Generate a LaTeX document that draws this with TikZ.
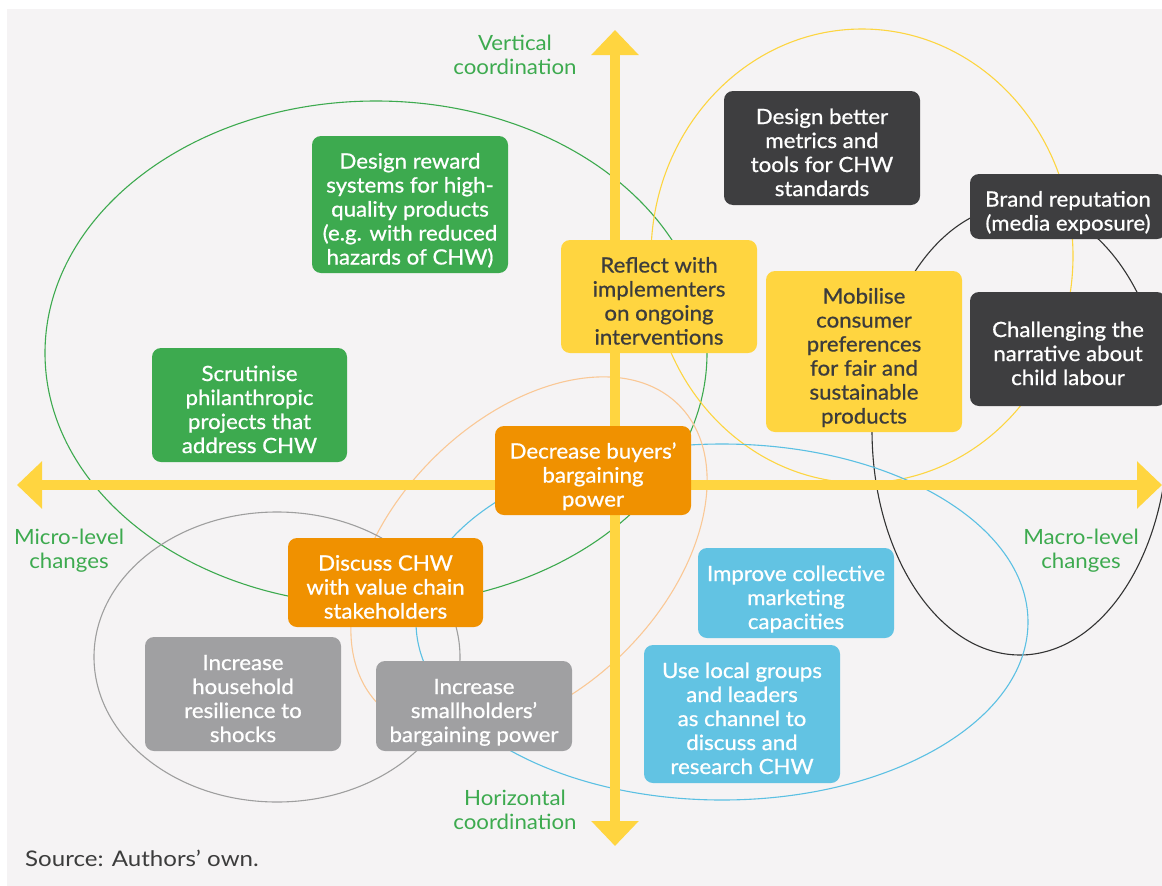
\documentclass[tikz,border=0pt]{standalone}
\usepackage{fontspec}
\setmainfont{Lato}[FakeStretch=1.06]
\newfontfamily\boxfont{Lato}[FakeStretch=1.06, FakeBold=0.8]
\newfontfamily\srcfont{Lato}[FakeStretch=1.12]
\newcommand\boxtop{\rule{0pt}{29pt}}
\newcommand\boxbot{\rule[-5pt]{0pt}{5pt}}
\usetikzlibrary{arrows.meta}
\definecolor{bg}{HTML}{F5F3F4}
\definecolor{cgreen}{HTML}{3DAA4F}
\definecolor{cyellow}{HTML}{FFD540}
\definecolor{corange}{HTML}{F09100}
\definecolor{cdark}{HTML}{3E3E40}
\definecolor{cgrey}{HTML}{A0A0A2}
\definecolor{cblue}{HTML}{62C3E3}
\definecolor{cpeach}{HTML}{FAC896}
\definecolor{ctext}{HTML}{3C3C3C}
\definecolor{eyellow}{HTML}{FDD540}
\definecolor{eblack}{HTML}{333333}
\definecolor{egrey}{HTML}{9E9E9E}
\definecolor{eblue}{HTML}{5BC0E3}
\begin{document}
\begin{tikzpicture}[x=1pt,y=-1pt,
  box/.style={rounded corners=9pt, minimum width=196pt, align=center, inner sep=0pt,
    font=\boxfont\fontsize{21}{24}\selectfont, text=white},
  greenbox/.style={box, fill=cgreen},
  yellowbox/.style={box, fill=cyellow, text=ctext},
  orangebox/.style={box, fill=corange},
  darkbox/.style={box, fill=cdark},
  greybox/.style={box, fill=cgrey},
  bluebox/.style={box, fill=cblue},
  axislabel/.style={align=center, text=cgreen, font=\fontsize{21}{24}\selectfont},
  ring/.style={line width=1.1pt},
  axisline/.style={draw=cyellow, line width=10.5pt, {Triangle[width=46pt,length=25pt]}-{Triangle[width=46pt,length=25pt]}}
]
\useasboundingbox (0,0) rectangle (1162,886);
\fill[white] (0,0) rectangle (1162,886);
\fill[bg] (7,9) rectangle (1162,886);

% ellipses
\draw[ring, draw=cgreen] (376,353) ellipse [x radius=331pt, y radius=252pt];
\draw[ring, draw=eyellow] (862,256) ellipse [x radius=211pt, y radius=227pt];
\draw[ring, draw=eblack] (1020,430) ellipse [x radius=148pt, y radius=225pt];
\draw[ring, draw=eblue] (722,622) ellipse [x radius=306pt, y radius=178pt];
\draw[ring, draw=cpeach, rotate around={45:(529,555)}] (529,555) ellipse [x radius=212pt, y radius=136pt];
\draw[ring, draw=egrey] (277,657) ellipse [x radius=183pt, y radius=145pt];

% axes
\coordinate (left) at (17,485);
\coordinate (right) at (1162,485);
\coordinate (top) at (615,30);
\coordinate (bottom) at (615,846);
\draw[axisline] (left) -- (right);
\draw[axisline] (bottom) -- (top);

% boxes
\node[greenbox, minimum height=137pt] (reward) at (410,204.5) {\boxtop Design reward\\systems for high-\\quality products\\(e.g. with reduced\\hazards of CHW)\boxbot};
\node[greenbox, minimum height=114pt, minimum width=195pt] (scrutinise) at (249.5,405) {\boxtop Scrutinise\\philanthropic\\projects that\\address CHW\boxbot};
\node[yellowbox, minimum height=113pt] (reflect) at (659,296.5) {\boxtop Reflect with\\implementers\\on ongoing\\interventions\boxbot};
\node[orangebox, minimum height=89pt] (decrease) at (593,470.5) {\boxtop Decrease buyers’\\bargaining\\power\boxbot};
\node[darkbox, minimum height=114pt] (metrics) at (822,148) {\boxtop Design better\\metrics and\\tools for CHW\\standards\boxbot};
\node[darkbox, minimum height=65pt] (brand) at (1068,206.5) {\boxtop Brand reputation\\(media exposure)\boxbot};
\node[darkbox, minimum height=114pt] (narrative) at (1068,349) {\boxtop Challenging the\\narrative about\\child labour\boxbot};
\node[yellowbox, minimum height=161pt] (mobilise) at (864,351.5) {\boxtop Mobilise\\consumer\\preferences\\for fair and\\sustainable\\products\boxbot};
\node[orangebox, minimum height=89pt, minimum width=195pt] (discuss) at (385.5,582.5) {\boxtop Discuss CHW\\with value chain\\stakeholders\boxbot};
\node[greybox, minimum height=114pt] (household) at (243,694) {\boxtop Increase\\household\\resilience to\\shocks\boxbot};
\node[greybox, minimum height=90pt] (smallholders) at (474,706) {\boxtop Increase\\smallholders’\\bargaining power\boxbot};
\node[bluebox, minimum height=90pt] (collective) at (796,593) {\boxtop Improve collective\\marketing\\capacities\boxbot};
\node[bluebox, minimum height=138pt] (local) at (742,714) {\boxtop Use local groups\\and leaders\\as channel to\\discuss and\\research CHW\boxbot};

% axis labels
\node[axislabel] (vlabel) at (515,55) {Vertical\\coordination};
\node[axislabel] (hlabel) at (515,810) {Horizontal\\coordination};
\node[axislabel] (microlabel) at (69,551) {Micro-level\\changes};
\node[axislabel] (macrolabel) at (1081,551) {Macro-level\\changes};
\node[anchor=west, text=ctext, inner sep=0pt, font=\srcfont\fontsize{21.5}{24}\selectfont] (source) at (25,858) {Source: Authors’ own.};
\end{tikzpicture}
\end{document}
